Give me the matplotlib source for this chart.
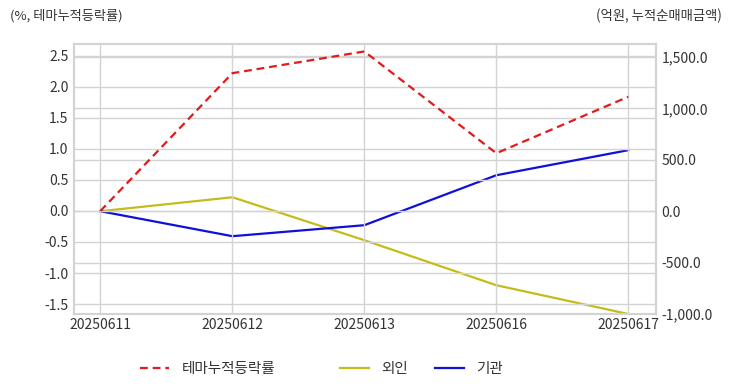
import matplotlib.pyplot as plt
from matplotlib.ticker import FuncFormatter

plt.rcParams['font.family'] = ['Noto Sans CJK KR', 'DejaVu Sans']

# data
dates = ['20250611', '20250612', '20250613', '20250616', '20250617']
theme_rate = [0.0, 2.22, 2.57, 0.93, 1.84]      # %, left axis
foreign = [0.0, 136, -282, -720, -1000]          # 억원, right axis
institution = [0.0, -243, -136, 350, 594]        # 억원, right axis

left_ticks = [-1.5, -1.0, -0.5, 0.0, 0.5, 1.0, 1.5, 2.0, 2.5]
right_ticks = [-1000, -500, 0, 500, 1000, 1500]

grid_c = '#d3d3d3'
text_c = '#333333'

fig = plt.figure(figsize=(7.32, 3.92), dpi=100)
ax = fig.add_axes([74 / 732, 1 - 314 / 392, (656 - 74) / 732, (314 - 44) / 392])
ax2 = ax.twinx()

x = list(range(len(dates)))
l1, = ax.plot(x, theme_rate, color='#e31a1c', linestyle=(0, (3.5, 2.2)), linewidth=1.6,
              label='테마누적등락률')
l2, = ax2.plot(x, foreign, color='#c3bc1a', linewidth=1.6, label='외인')
l3, = ax2.plot(x, institution, color='#1010d8', linewidth=1.6, label='기관')

ax.set_xlim(-0.2, 4.21)
ax.set_ylim(-1.66, 2.69)
ax2.set_ylim(-1000, 1627)

ax.set_xticks(x)
ax.set_xticklabels(dates)
ax.set_yticks(left_ticks)
ax.yaxis.set_major_formatter(FuncFormatter(lambda v, p: f'{v:.1f}'))
ax2.set_yticks(right_ticks)
ax2.yaxis.set_major_formatter(FuncFormatter(lambda v, p: f'{v:,.1f}'))

ax.grid(True, color=grid_c, linewidth=1.0)
ax2.grid(True, axis='y', color=grid_c, linewidth=1.0)
ax.set_axisbelow(True)
ax2.set_axisbelow(True)
ax.set_zorder(ax2.get_zorder() + 1)
ax.patch.set_visible(False)

for a in (ax, ax2):
    for s in a.spines.values():
        s.set_color(grid_c)
        s.set_linewidth(1.5)
    a.tick_params(length=0, labelsize=10, colors=text_c, pad=4)

ax.tick_params(axis='x', pad=3)

fig.text(10 / 732, 1 - 16 / 392, '(%, 테마누적등락률)', fontsize=9.5, color=text_c, va='center', ha='left')
fig.text(722 / 732, 1 - 16 / 392, '(억원, 누적순매매금액)', fontsize=9.6, color=text_c, va='center', ha='right')

# one legend per item, placed where the reference puts them
legend_x = [140, 340, 435]
for handle, lx in zip([l1, l2, l3], legend_x):
    fig.legend(handles=[handle], loc='center left', bbox_to_anchor=(lx / 732, 1 - 369 / 392),
               frameon=False, fontsize=10.5, handlelength=2.0, handletextpad=0.85,
               borderpad=0, borderaxespad=0, labelcolor=text_c)

fig.savefig('out.png', dpi=100)
